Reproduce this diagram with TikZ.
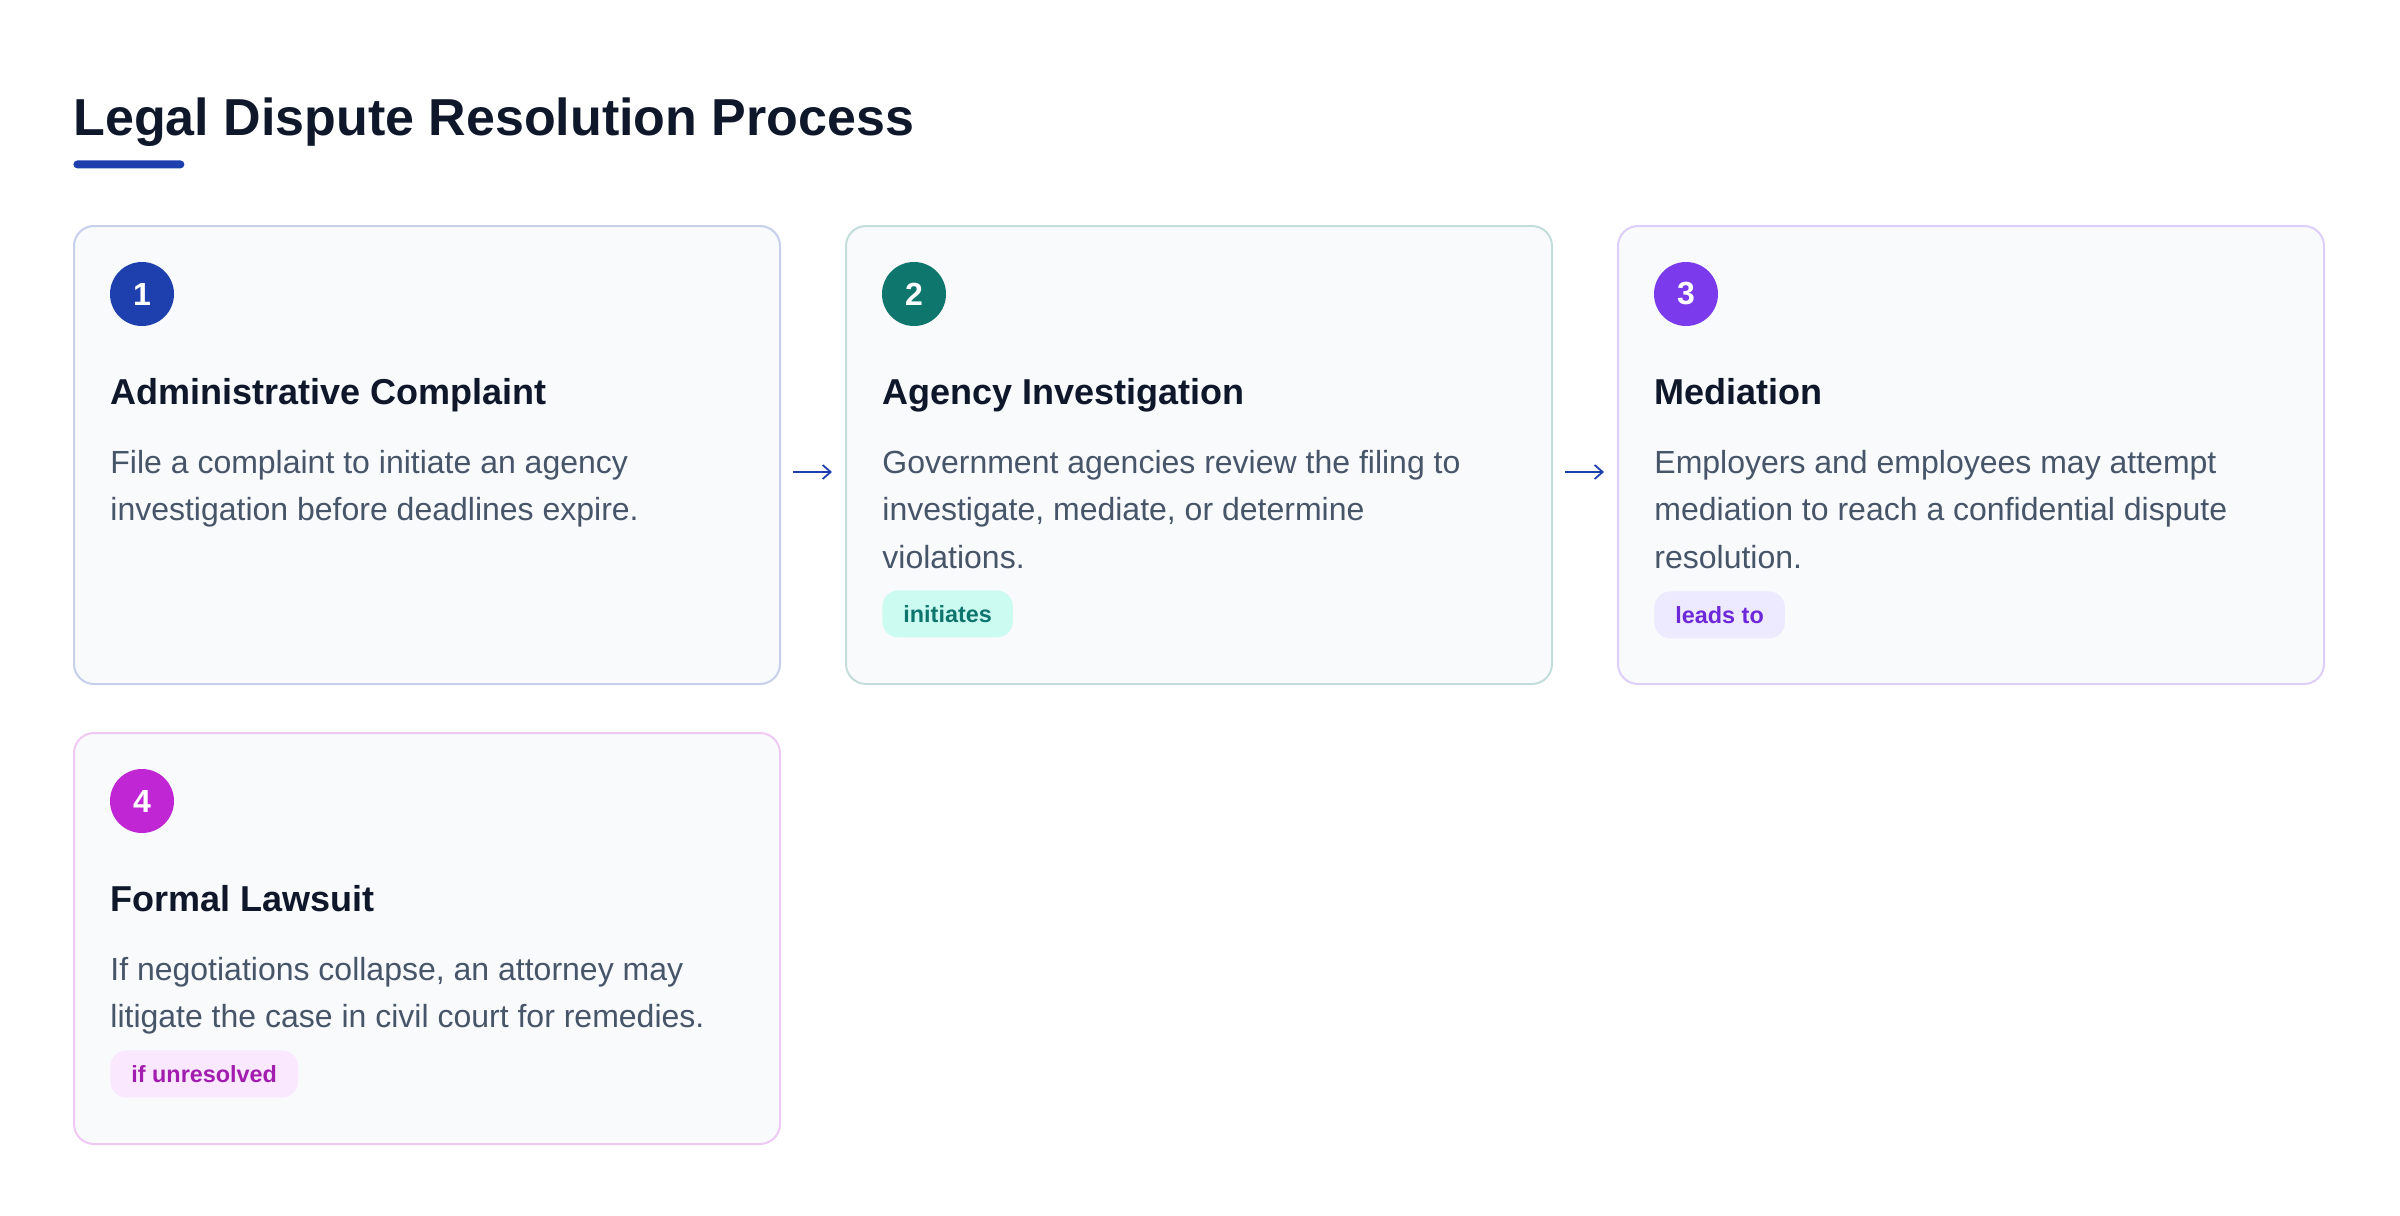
\documentclass[tikz,border=0pt]{standalone}
\usepackage{fontspec}
\setmainfont{Liberation Sans}
\usetikzlibrary{arrows.meta,calc}

\definecolor{accA}{HTML}{1E40AF}
\definecolor{accB}{HTML}{0F766E}
\definecolor{accC}{HTML}{7C3AED}
\definecolor{accD}{HTML}{C026D3}
\definecolor{tagB}{HTML}{CCFBF1}
\definecolor{tagC}{HTML}{EDE9FE}
\definecolor{tagD}{HTML}{FAE8FF}
\definecolor{tagtxtC}{HTML}{6D28D9}
\definecolor{tagtxtD}{HTML}{A21CAF}
\definecolor{ink}{HTML}{0F172A}
\definecolor{slate}{HTML}{475569}
\definecolor{cardbg}{HTML}{F8FAFC}

\begin{document}
\begin{tikzpicture}[x=0.5pt,y=-0.5pt,
	card/.style={draw=#1!25,line width=1pt,fill=cardbg,rounded corners=10pt,minimum width=353pt,anchor=north west,inner sep=0pt},
	num/.style={circle,fill=#1,text=white,minimum size=32pt,inner sep=0pt,font=\bfseries\fontsize{16}{16}\selectfont},
	head/.style={anchor=base west,inner sep=0pt,text=ink,font=\bfseries\fontsize{18}{21}\selectfont},
	body/.style={anchor=base west,inner sep=0pt,text=slate,align=left,font=\fontsize{16}{23.75}\selectfont},
	tag/.style={anchor=north west,rounded corners=8pt,inner xsep=10.5pt,inner ysep=0pt,minimum height=23.5pt,font=\bfseries\fontsize{11.7}{14}\selectfont},
	flow/.style={draw=accA,line width=0.9pt,-{Straight Barb[length=4pt,width=7pt]},shorten <=6pt,shorten >=6.5pt}
]
	\useasboundingbox (0,0) rectangle (2400,1216);
	
	% title
	\node (title) [anchor=base west,inner sep=0pt,text=ink,font=\bfseries\fontsize{26}{30}\selectfont] at (73,135) {Legal Dispute Resolution Process};
	\node (bar) [anchor=north west,fill=accA,rounded corners=2pt,minimum width=55.5pt,minimum height=4pt,inner sep=0pt] at (73,160) {};
	
	% cards
	\foreach \i/\x/\y/\h/\acc/\title in {1/73/225/229/accA/{Administrative Complaint},2/845/225/229/accB/{Agency Investigation},3/1617/225/229/accC/{Mediation},4/73/732/205.5/accD/{Formal Lawsuit}}{
		\node (card\i) [card=\acc,minimum height=\h pt] at (\x,\y) {};
		\node (num\i) [num=\acc] at ($(card\i.north west)+(69,69)$) {\i};
		\node (head\i) [head] at ($(card\i.north west)+(37,179)$) {\title};
	}
	
	% body text, placed by the baseline of its last line
	\node (text1) [body] at ($(card1.north west)+(37,295.5)$) {File a complaint to initiate an agency\\investigation before deadlines expire.};
	\node (text2) [body] at ($(card2.north west)+(37,343)$) {Government agencies review the filing to\\investigate, mediate, or determine\\violations.};
	\node (text3) [body] at ($(card3.north west)+(37,343)$) {Employers and employees may attempt\\mediation to reach a confidential dispute\\resolution.};
	\node (text4) [body] at ($(card4.north west)+(37,295.5)$) {If negotiations collapse, an attorney may\\litigate the case in civil court for remedies.};
	
	\node (tag2) [tag,fill=tagB,text=accB] at ($(card2.north west)+(37,365)$) {initiates};
	\node (tag3) [tag,fill=tagC,text=tagtxtC] at ($(card3.north west)+(37,366)$) {leads to};
	\node (tag4) [tag,fill=tagD,text=tagtxtD] at ($(card4.north west)+(37,318)$) {if unresolved};
	
	% arrows
	\draw [flow] ([yshift=-8.5pt]card1.east) -- ([yshift=-8.5pt]card2.west);
	\draw [flow] ([yshift=-8.5pt]card2.east) -- ([yshift=-8.5pt]card3.west);
\end{tikzpicture}
\end{document}
